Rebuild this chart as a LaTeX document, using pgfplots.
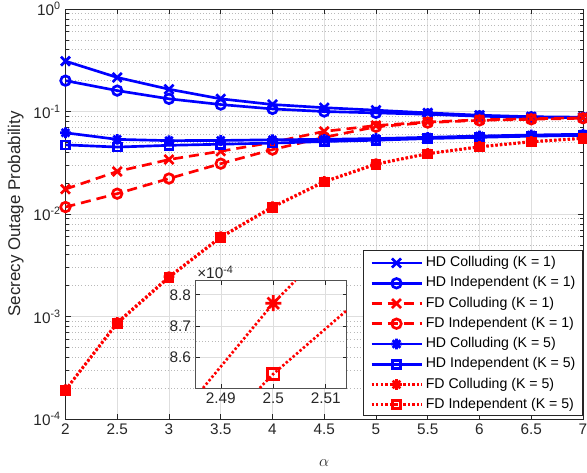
\documentclass[border=0pt]{standalone}
\usepackage{pgfplots}
\pgfplotsset{compat=1.18}
\usepackage{fontspec}
\setmainfont{Liberation Sans}
\definecolor{axgray}{RGB}{38,38,38}
\definecolor{gridmaj}{RGB}{222,222,222}
\definecolor{gridmin}{RGB}{185,185,185}
\definecolor{mblue}{RGB}{0,0,255}
\definecolor{mred}{RGB}{255,0,0}
\pgfdeclareplotmark{mstar}{%
 \pgfpathmoveto{\pgfqpoint{-\pgfplotmarksize}{0pt}}\pgfpathlineto{\pgfqpoint{\pgfplotmarksize}{0pt}}%
 \pgfpathmoveto{\pgfqpoint{0pt}{-\pgfplotmarksize}}\pgfpathlineto{\pgfqpoint{0pt}{\pgfplotmarksize}}%
 \pgfpathmoveto{\pgfqpoint{-.7071\pgfplotmarksize}{-.7071\pgfplotmarksize}}\pgfpathlineto{\pgfqpoint{.7071\pgfplotmarksize}{.7071\pgfplotmarksize}}%
 \pgfpathmoveto{\pgfqpoint{-.7071\pgfplotmarksize}{.7071\pgfplotmarksize}}\pgfpathlineto{\pgfqpoint{.7071\pgfplotmarksize}{-.7071\pgfplotmarksize}}%
 \pgfusepathqstroke}
\newcommand{\tfont}{\fontsize{11.5}{13}\selectfont}
\newcommand{\lfont}{\fontsize{10.6}{12}\selectfont}
\newcommand{\labfont}{\fontsize{12.7}{14}\selectfont}
\tikzset{mdash/.style={dash pattern=on 7.5pt off 4.5pt}, mdot/.style={dash pattern=on 1.8pt off 1.6pt}}
\pgfplotsset{every axis plot post/.append style={line width=2pt},
 sHDc1/.style={mblue, mark=x, mark size=4.8pt, mark options={solid}},
 sHDi1/.style={mblue, mark=o, mark size=3.6pt, mark options={solid}},
 sFDc1/.style={mred, mdash, mark=x, mark size=4.8pt, mark options={solid}},
 sFDi1/.style={mred, mdash, mark=o, mark size=3.6pt, mark options={solid}},
 sHDc5/.style={mblue, mark=mstar, mark size=4pt, mark options={solid}},
 sHDi5/.style={mblue, mark=square, mark size=3pt, mark options={solid}},
 sFDc5/.style={mred, mdot, mark=mstar, mark size=4pt, mark options={solid}},
 sFDi5/.style={mred, mdot, mark=square, mark size=3pt, mark options={solid}},
}
\begin{document}
\begin{tikzpicture}
\begin{axis}[name=main, at={(0,0)}, anchor=south west,
 scale only axis, width=388.1pt, height=307.5pt,
 xmin=2, xmax=7, ymode=log, ymin=1e-4, ymax=1,
 xtick={2,2.5,3,3.5,4,4.5,5,5.5,6,6.5,7},
 xticklabels={2,2.5,3,3.5,4,4.5,5,5.5,6,6.5,7},
 ytick={1e-4,1e-3,1e-2,1e-1,1},
 yticklabels={10\textsuperscript{-4},10\textsuperscript{-3},10\textsuperscript{-2},10\textsuperscript{-1},10\textsuperscript{0}},
 /pgf/number format/assume math mode=true,
 ticklabel style={font=\tfont, text=axgray},
 grid=both,
 major grid style={gridmaj, line width=0.5pt},
 minor grid style={gridmin, dotted, line width=0.5pt},
 tick align=inside, major tick length=4pt, minor tick length=2.5pt,
 tick style={axgray, line width=0.5pt},
 axis line style={axgray, line width=0.5pt},
 xlabel={$\alpha$}, ylabel={Secrecy Outage Probability},
 xlabel style={at={(axis description cs:0.5,-0.1073)}, anchor=center, font=\labfont, text=axgray},
 ylabel style={at={(axis description cs:-0.0961,0.5)}, anchor=center, font=\labfont, text=axgray},
]
\addplot[sHDc1] coordinates {
 (2,0.31) (2.5,0.215) (3,0.165) (3.5,0.133) (4,0.117) (4.5,0.109) (5,0.103) (5.5,0.097) (6,0.092) (6.5,0.089) (7,0.088)};
\addplot[sHDi1] coordinates {
 (2,0.20) (2.5,0.16) (3,0.133) (3.5,0.117) (4,0.106) (4.5,0.100) (5,0.097) (5.5,0.094) (6,0.090) (6.5,0.088) (7,0.087)};
\addplot[sFDc1] coordinates {
 (2,0.0175) (2.5,0.026) (3,0.034) (3.5,0.041) (4,0.050) (4.5,0.064) (5,0.073) (5.5,0.079) (6,0.083) (6.5,0.085) (7,0.087)};
\addplot[sFDi1] coordinates {
 (2,0.0117) (2.5,0.0158) (3,0.0222) (3.5,0.031) (4,0.0425) (4.5,0.056) (5,0.071) (5.5,0.078) (6,0.082) (6.5,0.084) (7,0.086)};
\addplot[sHDc5] coordinates {
 (2,0.0620) (2.5,0.0535) (3,0.0520) (3.5,0.0522) (4,0.0530) (4.5,0.0535) (5,0.0545) (5.5,0.0560) (6,0.0577) (6.5,0.0590) (7,0.0600)};
\addplot[sHDi5] coordinates {
 (2,0.0473) (2.5,0.0450) (3,0.0468) (3.5,0.0480) (4,0.0492) (4.5,0.0510) (5,0.0525) (5.5,0.0545) (6,0.0560) (6.5,0.0575) (7,0.0585)};
\addplot[sFDc5] coordinates {
 (2,1.93e-4) (2.5,8.77e-4) (3,2.45e-3) (3.5,6.0e-3) (4,0.0118) (4.5,0.0208) (5,0.0309) (5.5,0.039) (6,0.0455) (6.5,0.051) (7,0.055)};
\addplot[sFDi5] coordinates {
 (2,1.91e-4) (2.5,8.55e-4) (3,2.40e-3) (3.5,5.9e-3) (4,0.0116) (4.5,0.0205) (5,0.0305) (5.5,0.0386) (6,0.0450) (6.5,0.0505) (7,0.0545)};
\end{axis}
\begin{axis}[name=ins, at={(97.65pt,23.25pt)}, anchor=south west,
 scale only axis, width=113.25pt, height=80.5pt,
 xmin=2.4852, xmax=2.514, ymin=8.502, ymax=8.845,
 xtick={2.49,2.5,2.51}, xticklabels={2.49,2.5,2.51},
 ytick={8.6,8.7,8.8}, yticklabels={8.6,8.7,8.8},
 minor y tick num=1,
 /pgf/number format/assume math mode=true,
 ticklabel style={font=\tfont, text=axgray},
 grid=both,
 major grid style={gridmaj, line width=0.5pt},
 minor grid style={gridmin, dotted, line width=0.5pt},
 tick align=inside, major tick length=3pt, minor tick length=0pt,
 tick style={axgray, line width=0.5pt},
 axis line style={axgray!80, line width=0.6pt},
 axis background/.style={fill=white},
]
\addplot[mred, mdot, mark=mstar, mark size=6pt, mark options={solid}, mark indices={2}] coordinates {
 (2.4866,8.502) (2.5,8.773) (2.5042,8.845)};
\addplot[mred, mdot, mark=square, mark size=4.2pt, mark options={solid}, mark indices={2}] coordinates {
 (2.4974,8.502) (2.5,8.547) (2.514,8.75)};
\end{axis}
\node[anchor=south west, inner sep=1pt, font=\tfont, text=axgray] at (ins.north west) {×10\textsuperscript{-4}};
% legend drawn as a small pgfplots axis (units: pt)
\begin{axis}[name=leg, at={(223.2pt,2.7pt)}, anchor=south west,
 scale only axis, width=164.25pt, height=123.75pt,
 xmin=0, xmax=164.25, ymin=0, ymax=123.75,
 xtick=\empty, ytick=\empty, clip=false,
 axis line style={axgray, line width=0.5pt},
 axis background/.style={fill=white},
]
\addplot[sHDc1, mark indices={2}] coordinates {(6.3,114.3) (25.05,114.3) (43.8,114.3)};
\addplot[sHDi1, mark indices={2}] coordinates {(6.3,99.1) (25.05,99.1) (43.8,99.1)};
\addplot[sFDc1, mark indices={2}] coordinates {(6.3,83.9) (25.05,83.9) (43.8,83.9)};
\addplot[sFDi1, mark indices={2}] coordinates {(6.3,68.8) (25.05,68.8) (43.8,68.8)};
\addplot[sHDc5, mark indices={2}] coordinates {(6.3,53.6) (25.05,53.6) (43.8,53.6)};
\addplot[sHDi5, mark indices={2}] coordinates {(6.3,38.4) (25.05,38.4) (43.8,38.4)};
\addplot[sFDc5, mark indices={2}] coordinates {(6.3,23.2) (25.05,23.2) (43.8,23.2)};
\addplot[sFDi5, mark indices={2}] coordinates {(6.3,8.0) (25.05,8.0) (43.8,8.0)};
\begin{scope}[every node/.style={anchor=west, font=\lfont, inner sep=0pt}]
\node at (axis cs:46.8,114.3) {HD Colluding (K = 1)};
\node at (axis cs:46.8,99.1) {HD Independent (K = 1)};
\node at (axis cs:46.8,83.9) {FD Colluding (K = 1)};
\node at (axis cs:46.8,68.8) {FD Independent (K = 1)};
\node at (axis cs:46.8,53.6) {HD Colluding (K = 5)};
\node at (axis cs:46.8,38.4) {HD Independent (K = 5)};
\node at (axis cs:46.8,23.2) {FD Colluding (K = 5)};
\node at (axis cs:46.8,8.0) {FD Independent (K = 5)};
\end{scope}
\end{axis}
\pgfresetboundingbox
\path (-49.1pt,-39.75pt) rectangle (391.1pt,314.25pt);
\end{tikzpicture}
\end{document}
